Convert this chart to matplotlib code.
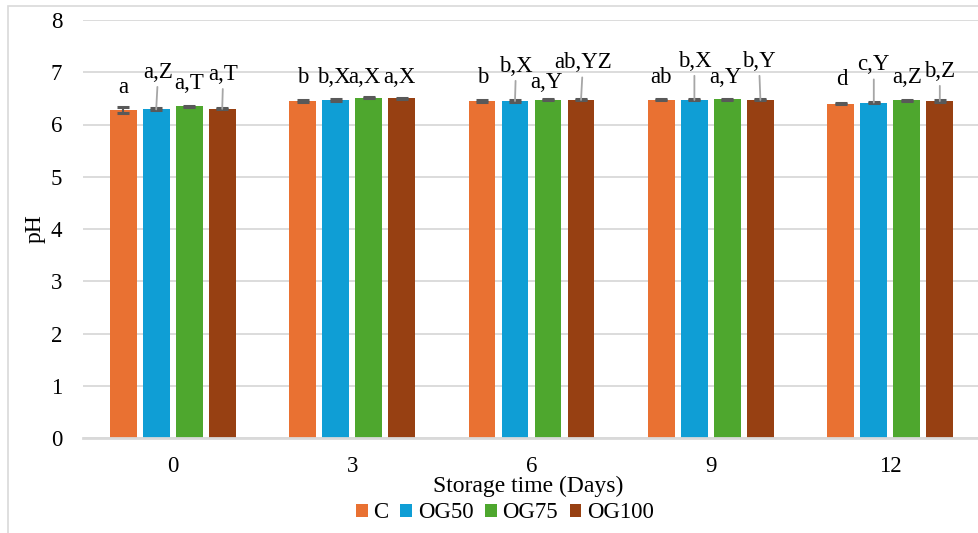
import matplotlib
matplotlib.use("Agg")
import matplotlib.pyplot as plt
from matplotlib.patches import Rectangle
import numpy as np

# ----------------------------------------------------------
# Data (pH over storage time)
# ----------------------------------------------------------
days = ["0", "3", "6", "9", "12"]
series = ["C", "OG50", "OG75", "OG100"]

ph_c = [6.28, 6.45, 6.45, 6.47, 6.40]
ph_og50 = [6.29, 6.47, 6.45, 6.47, 6.42]
ph_og75 = [6.35, 6.51, 6.47, 6.48, 6.46]
ph_og100 = [6.30, 6.50, 6.47, 6.47, 6.45]

err_c = [0.06, 0.01, 0.01, 0.01, 0.01]
err_og50 = [0.02, 0.02, 0.01, 0.01, 0.01]
err_og75 = [0.01, 0.01, 0.01, 0.01, 0.01]
err_og100 = [0.01, 0.01, 0.01, 0.01, 0.01]

lab_c = ["a", "b", "b", "ab", "d"]
lab_og50 = ["a,Z", "b,X", "b,X", "b,X", "c,Y"]
lab_og75 = ["a,T", "a,X", "a,Y", "a,Y", "a,Z"]
lab_og100 = ["a,T", "a,X", "ab,YZ", "b,Y", "b,Z"]

values = [ph_c, ph_og50, ph_og75, ph_og100]
errors = [err_c, err_og50, err_og75, err_og100]
labels = [lab_c, lab_og50, lab_og75, lab_og100]
colors = ["#E97132", "#0F9ED5", "#4EA72E", "#974012"]

# label placement (pixels above bar top) and whether a leader line is drawn
lab_dy = [
    [17, 17.7, 17.7, 17.3, 19],
    [31.6, 16.7, 29.3, 33.3, 32.3],
    [17, 14.4, 11.7, 16, 17.4],
    [29, 15, 31.7, 33.3, 24.3],
]
lab_dx = [
    [0, 0, 1, 0, 1],
    [2, -2, 1, 0, 0],
    [0, -4, -2, -2, 0],
    [1, -2, 2, -1.5, 0],
]
leader = [
    [False] * 5,
    [True, False, True, True, True],
    [False] * 5,
    [True, False, True, True, True],
]

# ----------------------------------------------------------
# Figure
# ----------------------------------------------------------
plt.rcParams["font.family"] = ["Liberation Serif", "DejaVu Serif"]

W, H = 979, 533
fig = plt.figure(figsize=(W / 100, H / 100), dpi=100)
ax = fig.add_axes([83 / W, 95 / H, 897 / W, 418 / H])

# chart-area frame (only left and top edges visible)
fig.patches.append(
    Rectangle((8 / W, -0.05), 1.1, 1 - 6 / H + 0.05, transform=fig.transFigure,
              fill=False, edgecolor="#d9d9d9", linewidth=1.2)
)

x = np.arange(len(days))
step = 0.184
width = 0.150
grid_color = "#d9d9d9"

for i, (vals, errs, col, name) in enumerate(zip(values, errors, colors, series)):
    pos = x + (i - 1.5) * step
    ax.bar(pos, vals, width=width, color=col, label=name, zorder=3)
    ax.errorbar(pos, vals, yerr=errs, fmt="none", ecolor="#595959",
                elinewidth=1.5, capsize=4.3, capthick=2.2, zorder=4)
    for j in range(len(days)):
        kw = dict(
            xy=(pos[j], vals[j]),
            xytext=(lab_dx[i][j] * 0.72, lab_dy[i][j] * 0.72),
            textcoords="offset points",
            ha="center", va="baseline", fontsize=16.5, zorder=5,
        )
        if leader[i][j]:
            kw["arrowprops"] = dict(arrowstyle="-", color="#a6a6a6", lw=1.3,
                                    shrinkA=1, shrinkB=0)
        ax.annotate(labels[i][j], **kw)

ax.set_xlim(-0.5, len(days) - 0.5)
ax.set_ylim(0, 8)
ax.set_yticks(range(0, 9))
ax.set_xticks(x)
ax.set_xticklabels(days)

ax.grid(axis="y", color=grid_color, linewidth=1.3, zorder=0)
ax.set_axisbelow(True)
for side in ["top", "right", "left"]:
    ax.spines[side].set_visible(False)
ax.spines["bottom"].set_color(grid_color)
ax.spines["bottom"].set_linewidth(2)
ax.spines["bottom"].set_zorder(3.5)

ax.tick_params(axis="both", length=0, labelsize=16.5)
ax.tick_params(axis="x", pad=13)
ax.tick_params(axis="y", pad=15)

fig.text(35 / W, 1 - 229 / H, "pH", rotation=90, ha="center", va="center",
         fontsize=17)
fig.text(528 / W, 1 - 486 / H, "Storage time (Days)", ha="center",
         va="center", fontsize=17)

fig.legend(
    loc="center", bbox_to_anchor=(505 / W, 1 - 513 / H), ncol=4,
    frameon=False, fontsize=16.5, handlelength=0.52, handleheight=0.52,
    handletextpad=0.25, columnspacing=0.5, borderpad=0,
)

fig.savefig("out.png", dpi=100, facecolor="white")
